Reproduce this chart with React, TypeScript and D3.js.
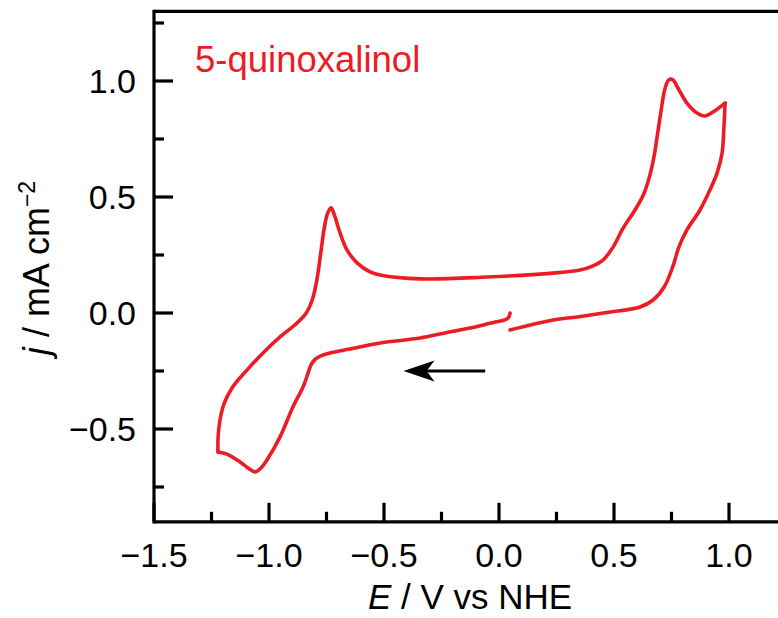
import * as d3 from "d3";

// ---- data (E in V vs NHE, j in mA cm^-2) ----
// first sweep: from the rest potential going negative
const cathodicScan: [number, number][] = [
  [0.048, 0.0], [0.043, -0.017], [0.026, -0.03], [-0.017, -0.039], [-0.126, -0.065],
  [-0.235, -0.086], [-0.343, -0.108], [-0.517, -0.129], [-0.648, -0.155], [-0.735, -0.172],
  [-0.775, -0.185], [-0.8, -0.2], [-0.818, -0.225], [-0.832, -0.265], [-0.852, -0.319],
  [-0.896, -0.405], [-0.952, -0.534], [-1.009, -0.634], [-1.035, -0.668], [-1.061, -0.685],
  [-1.091, -0.668], [-1.126, -0.642], [-1.183, -0.608], [-1.222, -0.599],
];
// second sweep: from the negative vertex up to the positive vertex
const anodicScan: [number, number][] = [
  [-1.222, -0.599], [-1.221, -0.53], [-1.213, -0.461], [-1.195, -0.39], [-1.16, -0.322],
  [-1.096, -0.246], [-1.026, -0.172], [-0.952, -0.103], [-0.878, -0.043], [-0.838, 0.0],
  [-0.812, 0.056], [-0.792, 0.142], [-0.775, 0.259], [-0.76, 0.365], [-0.745, 0.43],
  [-0.73, 0.453], [-0.713, 0.414], [-0.691, 0.345], [-0.661, 0.272], [-0.617, 0.216],
  [-0.561, 0.177], [-0.517, 0.164], [-0.343, 0.147], [-0.052, 0.155], [0.235, 0.172],
  [0.352, 0.185], [0.409, 0.203], [0.452, 0.228], [0.496, 0.284], [0.539, 0.365],
  [0.583, 0.431], [0.626, 0.505], [0.655, 0.59], [0.675, 0.68], [0.69, 0.776],
  [0.706, 0.88], [0.72, 0.96], [0.737, 1.004], [0.755, 1.006], [0.778, 0.97],
  [0.817, 0.905], [0.861, 0.862], [0.896, 0.849], [0.93, 0.866], [0.983, 0.905],
];
// third sweep: back from the positive vertex to the rest potential
const returnScan: [number, number][] = [
  [0.983, 0.905], [0.978, 0.802], [0.97, 0.69], [0.948, 0.603], [0.917, 0.53],
  [0.874, 0.444], [0.817, 0.358], [0.782, 0.284], [0.755, 0.198], [0.718, 0.112],
  [0.67, 0.056], [0.613, 0.026], [0.483, 0.004], [0.339, -0.017], [0.235, -0.03],
  [0.048, -0.073],
];

const xMajor = [-1.5, -1.0, -0.5, 0.0, 0.5, 1.0];
const xMinor = [-1.25, -0.75, -0.25, 0.25, 0.75, 1.25];
const yMajor = [-0.5, 0.0, 0.5, 1.0];
const yMinor = [-0.75, -0.25, 0.25, 0.75, 1.25];

const sampleName = "5-quinoxalinol";
// scan direction arrow: [E start, E end, j]
const scanArrow = [-0.06, -0.415, -0.25];

const RED = "#ec1c24";
const FONT = "'Liberation Sans', Arial, Helvetica, sans-serif";

export default function App() {
  const W = 778;
  const H = 618;
  const x = d3.scaleLinear().domain([-1.5, 1.0]).range([154, 729]);
  const y = d3.scaleLinear().domain([-0.5, 1.0]).range([429, 81]);
  const xLeft = x(-1.5);
  const yBottom = y(-0.9);
  const yTop = y(1.3);
  const fmt = d3.format(".1f");

  const line = d3
    .line<[number, number]>()
    .x((d) => x(d[0]))
    .y((d) => y(d[1]))
    .curve(d3.curveCatmullRom.alpha(0.5));

  const [a0, a1, aj] = scanArrow;
  const ay = y(aj);
  const tip = x(a1);

  return (
    <svg
      width={W}
      height={H}
      style={{ position: "absolute", left: 0, top: 0, background: "#fff" }}
      fontFamily={FONT}
    >
      {/* curve */}
      <g fill="none" stroke={RED} strokeWidth={3.6} strokeLinejoin="round" strokeLinecap="round">
        {[cathodicScan, anodicScan, returnScan].map((s, i) => (
          <path key={i} d={line(s) ?? ""} />
        ))}
      </g>

      {/* frame */}
      <g stroke="#000" strokeWidth={3.2} fill="none">
        <line x1={xLeft} x2={W + 10} y1={yBottom} y2={yBottom} />
        <line x1={xLeft} x2={W + 10} y1={yTop} y2={yTop} />
        <line x1={xLeft} x2={xLeft} y1={yTop - 1.6} y2={yBottom + 1.6} />
        {xMajor.map((v) => (
          <line key={"xM" + v} x1={x(v)} x2={x(v)} y1={yBottom} y2={yBottom - 19} />
        ))}
        {xMinor.map((v) => (
          <line key={"xm" + v} x1={x(v)} x2={x(v)} y1={yBottom} y2={yBottom - 10} />
        ))}
        {yMajor.map((v) => (
          <line key={"yM" + v} x1={xLeft} x2={xLeft + 19} y1={y(v)} y2={y(v)} />
        ))}
        {yMinor.map((v) => (
          <line key={"ym" + v} x1={xLeft} x2={xLeft + 10} y1={y(v)} y2={y(v)} />
        ))}
      </g>

      {/* tick labels */}
      <g fontSize={34} fill="#000">
        {xMajor.map((v) => (
          <text key={"xl" + v} x={x(v)} y={567} textAnchor="middle">
            {fmt(v)}
          </text>
        ))}
        {yMajor.map((v) => (
          <text key={"yl" + v} x={136} y={y(v)} dy="0.35em" textAnchor="end">
            {fmt(v)}
          </text>
        ))}
      </g>

      {/* axis titles */}
      <text x={470} y={609} fontSize={35} textAnchor="middle">
        <tspan fontStyle="italic">E</tspan> / V vs NHE
      </text>
      <text transform={`translate(49,${268}) rotate(-90)`} fontSize={36} textAnchor="middle">
        <tspan fontStyle="italic">j</tspan> / mA cm
        <tspan fontSize={23} dy={-14}>−2</tspan>
      </text>

      {/* sample label */}
      <text x={195} y={72} fontSize={36.5} fill={RED}>
        {sampleName}
      </text>

      {/* scan direction arrow */}
      <line x1={x(a0)} x2={tip + 20} y1={ay} y2={ay} stroke="#000" strokeWidth={3.2} />
      <path
        d={`M${tip},${ay} L${tip + 31},${ay - 10.5} L${tip + 23},${ay} L${tip + 31},${ay + 10.5} Z`}
        fill="#000"
      />
    </svg>
  );
}
